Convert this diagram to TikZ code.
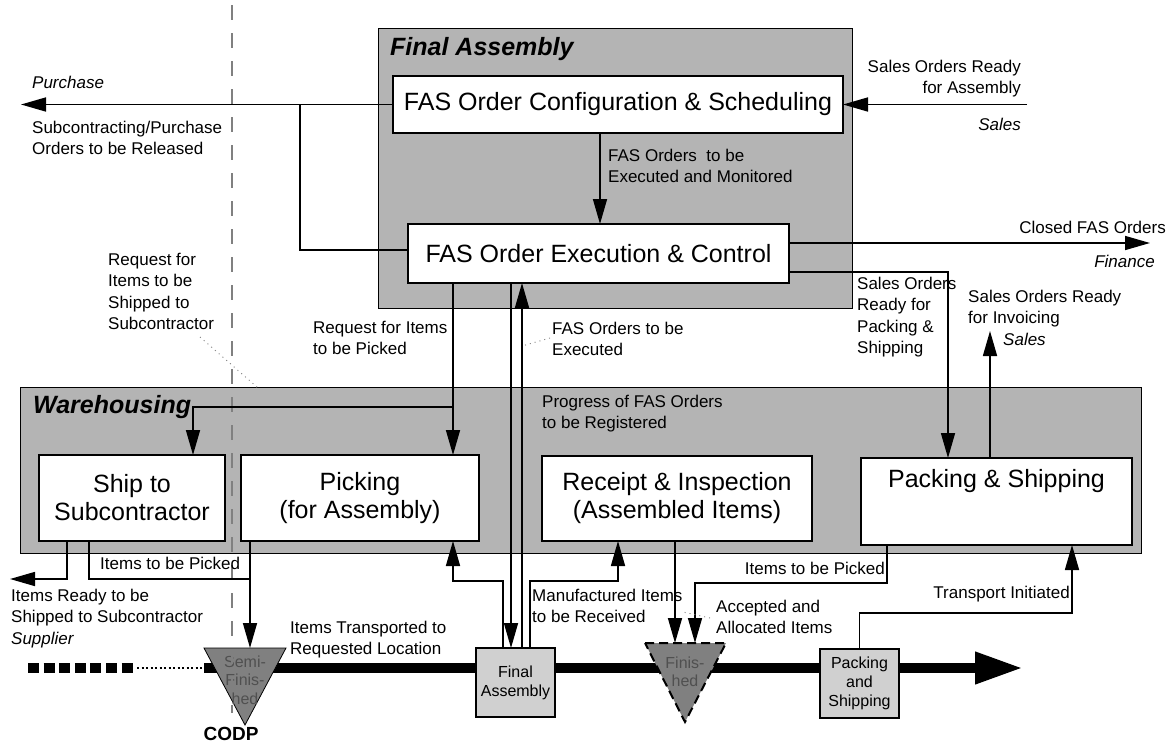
\documentclass[tikz,border=0pt]{standalone}
\usepackage{fontspec}
\setmainfont{Liberation Sans}
\usetikzlibrary{arrows.meta}
\definecolor{regiongray}{RGB}{180,180,180}
\definecolor{smallgray}{RGB}{208,208,208}
\definecolor{trigray}{RGB}{128,128,128}
\definecolor{tritext}{RGB}{80,80,80}
\begin{document}
\begin{tikzpicture}[x=1pt,y=-1pt,
  region/.style={draw=black, line width=1pt, fill=regiongray, inner sep=0pt, outer sep=0pt},
  procbox/.style={draw=black, line width=1.6pt, fill=white, inner sep=0pt, outer sep=0pt, align=center, font=\fontsize{25}{28}\selectfont},
  smallbox/.style={draw=black, line width=1.2pt, fill=smallgray, inner sep=0pt, outer sep=0pt, align=center, font=\fontsize{16}{19}\selectfont, minimum width=79pt, minimum height=69pt},
  lbl/.style={inner sep=0pt, align=left, font=\fontsize{17}{21.5}\selectfont},
  rlbl/.style={inner sep=0pt, align=right, font=\fontsize{17}{21.5}\selectfont},
  ttl/.style={inner sep=0pt, font=\fontsize{25}{28}\selectfont\bfseries\itshape},
  conn/.style={draw=black, line width=1.6pt},
  arr/.style={conn, -{Triangle[length=25pt,width=14pt]}},
  leader/.style={draw=gray, line width=0.9pt, dash pattern=on 1pt off 4pt},
  tritxt/.style={inner sep=0pt, align=center, text=tritext, font=\fontsize{16}{18.5}\selectfont}
]
\useasboundingbox (0,0) rectangle (1176,742);

% regions
\node[region, minimum width=474pt, minimum height=280pt] (fa) at (615,168) {};
\node[region, minimum width=1121pt, minimum height=166pt] (wh) at (580.5,470) {};
\node[ttl, anchor=base west] (fattl) at (390,55) {Final Assembly};
\node[ttl, anchor=base west] (whttl) at (33,413) {Warehousing};

% process boxes
\node[procbox, minimum width=450pt, minimum height=57pt] (cfg) at (618,104.5) {FAS Order Configuration \& Scheduling};
\node[procbox, minimum width=381pt, minimum height=59pt] (exec) at (598.5,253.5) {FAS Order Execution \& Control};
\node[procbox, minimum width=186pt, minimum height=86pt] (ship) at (132,498) {Ship to\\Subcontractor};
\node[procbox, minimum width=238pt, minimum height=86pt] (pick) at (360,498) {Picking\\(for Assembly)};
\node[procbox, minimum width=270pt, minimum height=85pt] (recv) at (677,498.5) {Receipt \& Inspection\\(Assembled Items)};
\node[procbox, minimum width=271pt, minimum height=87pt] (pack) at (996.5,501.5) {};
\node[inner sep=0pt, font=\fontsize{25}{28}\selectfont, anchor=base] (packtxt) at (996.5,487) {Packing \& Shipping};

% main material flow line
\coordinate (mlA) at (28,668);
\coordinate (mlB) at (137,668);
\coordinate (mlC) at (204,668);
\coordinate (mlEnd) at (1023,668);
\draw[line width=10pt, dash pattern=on 11pt off 4.6pt] (mlA) -- (mlB);
\draw[line width=1.2pt, dash pattern=on 2pt off 2.5pt] (mlB) -- (mlC);
\draw[line width=10pt, -{Triangle[length=48pt,width=30pt]}] (mlC) -- (mlEnd);

% small boxes on the flow line
\node[smallbox] (fasm) at (515.5,682.5) {Final\\Assembly};
\node[smallbox] (pksm) at (859.5,683.5) {Packing\\and\\Shipping};

% triangles
\coordinate (semiTop) at (245,648);
\coordinate (finTop) at (685,643);
\filldraw[fill=trigray, draw=black, line width=0.8pt] (204,648) -- (286,648) -- (245,725) -- cycle;
\node[tritxt, anchor=base] (semitxt) at (245,704) {Semi-\\Finis-\\hed};
\filldraw[fill=trigray, draw=black, line width=2pt, dash pattern=on 9pt off 5pt] (645,643) -- (726,643) -- (685,722) -- cycle;
\node[tritxt, anchor=base] (fintxt) at (685,686.5) {Finis-\\hed};
\node[inner sep=0pt, anchor=base, font=\fontsize{19}{22}\selectfont\bfseries] (codp) at (231,740) {CODP};

% CODP separator
\draw[draw=gray, line width=2.5pt, dash pattern=on 15pt off 13pt] (232,5) -- (232,713);

% connectors - final assembly
\coordinate (purch) at (21,104.5);
\coordinate (jn) at (300,104.5);
\coordinate (salesin) at (1027,104.5);
\coordinate (closed) at (1150,243);
\coordinate (invoice) at (990,331);
\draw[arr] (cfg.west) -- (purch);
\draw[conn] ([yshift=3.5pt]exec.west) -| (jn);
\draw[arr] (salesin) -- (cfg.east);
\draw[arr] (cfg.south -| 600,0) -- (exec.north -| 600,0);
\draw[arr] ([yshift=10.5pt]exec.east) -- (closed);
\draw[arr] ([yshift=-18.5pt]exec.east) -| (pack.north -| 948,0);
\draw[arr] (pack.north -| 990,0) -- (invoice);

% connectors - requests to warehouse
\coordinate (br1) at (453,407);
\draw[arr] (exec.south -| 453,0) -- (pick.north -| 453,0);
\draw[arr] (br1) -| (ship.north -| 193,0);
\draw[arr] (exec.south -| 511,0) -- (fasm.north -| 511,0);
\draw[arr] (fasm.north -| 522,0) -- (exec.south -| 522,0);

% connectors - flow level
\draw[arr] (fasm.north -| 503,0) -- (503,581) -| (pick.south -| 453,0);
\draw[arr] (fasm.north -| 530,0) -- (530,581) -| (recv.south -| 618,0);
\draw[arr] (recv.south -| 675,0) -- (finTop -| 675,0);
\draw[arr] (pack.south -| 887,0) -- (887,583) -| (finTop -| 695,0);
\draw[arr] (pksm.north) -- (859.5,613) -| (pack.south -| 1072,0);
\coordinate (suppl) at (10,579);
\draw[arr] (ship.south -| 67,0) |- (suppl);
\draw[conn] (ship.south -| 89,0) |- (250,579);
\draw[arr] (pick.south -| 250,0) -- (semiTop -| 250,0);

% leaders
\draw[leader] (200,337) -- (258,388);
\draw[leader] (550,338) -- (522,346);
\draw[leader] (710,618) -- (683,612);

% labels (base anchor = last line baseline)
\node[lbl, anchor=base west, font=\fontsize{17}{21.5}\selectfont\itshape] (lpurch) at (32,88) {Purchase};
\node[lbl, anchor=base west] (lsub) at (32,154.5) {Subcontracting/Purchase\\Orders to be Released};
\node[rlbl, anchor=base east] (lsalesa) at (1021,93.5) {Sales Orders Ready\\for Assembly};
\node[rlbl, anchor=base east, font=\fontsize{17}{21.5}\selectfont\itshape] (lsales1) at (1021,130) {Sales};
\node[lbl, anchor=base west] (lexm) at (608,182.5) {FAS Orders\ \ to be\\Executed and Monitored};
\node[rlbl, anchor=base east] (lclosed) at (1166,233) {Closed FAS Orders};
\node[rlbl, anchor=base east, font=\fontsize{17}{21.5}\selectfont\itshape] (lfin) at (1155,267) {Finance};
\node[lbl, anchor=base west] (lsopk) at (857,353.5) {Sales Orders\\Ready for\\Packing \&\\Shipping};
\node[lbl, anchor=base west] (linv) at (968,323.5) {Sales Orders Ready\\for Invoicing};
\node[lbl, anchor=base west, font=\fontsize{17}{21.5}\selectfont\itshape] (lsales2) at (1003,345) {Sales};
\node[lbl, anchor=base west] (lreqsh) at (108,329.5) {Request for\\Items to be\\Shipped to\\Subcontractor};
\node[lbl, anchor=base west] (lreqpk) at (313,354.5) {Request for Items\\to be Picked};
\node[lbl, anchor=base west] (lfasex) at (552,355.5) {FAS Orders to be\\Executed};
\node[lbl, anchor=base west] (lprog) at (542,428.5) {Progress of FAS Orders\\to be Registered};
\node[lbl, anchor=base west] (lpick1) at (100,569) {Items to be Picked};
\node[lbl, anchor=base west] (lready) at (11,644) {Items Ready to be\\Shipped to Subcontractor\\\textit{Supplier}};
\node[lbl, anchor=base west] (ltrans) at (290,654.5) {Items Transported to\\Requested Location};
\node[lbl, anchor=base west] (lmanu) at (532,622.5) {Manufactured Items\\to be Received};
\node[rlbl, anchor=base east] (lpick2) at (885,574) {Items to be Picked};
\node[lbl, anchor=base west] (lacc) at (716,633.5) {Accepted and\\Allocated Items};
\node[rlbl, anchor=base east] (ltrinit) at (1070,598) {Transport Initiated};
\end{tikzpicture}
\end{document}
